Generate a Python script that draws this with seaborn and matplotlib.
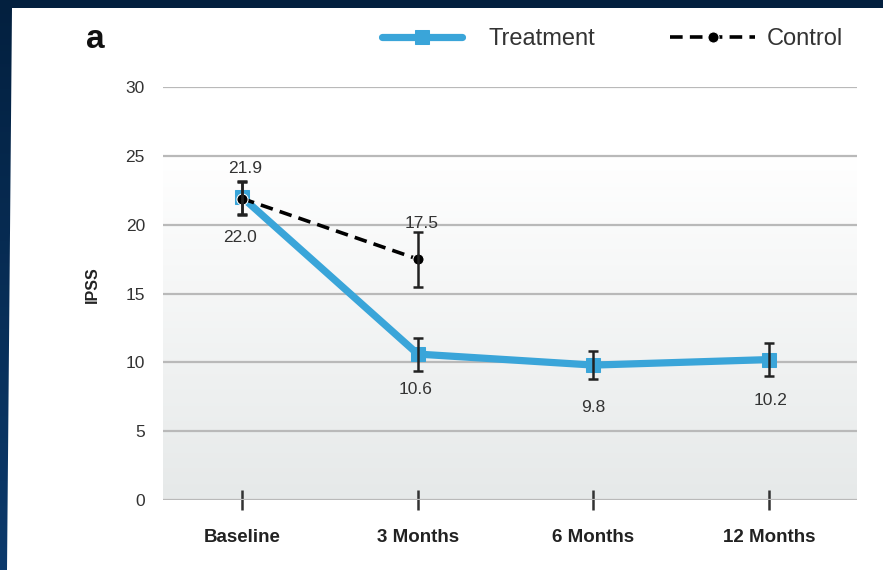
import numpy as np
import pandas as pd
import matplotlib
matplotlib.use("Agg")
import matplotlib.pyplot as plt
from matplotlib.patches import Polygon
from matplotlib.colors import LinearSegmentedColormap
import seaborn as sns

# Data
timepoints = ["Baseline", "3 Months", "6 Months", "12 Months"]
treatment_ipss = [22.0, 10.6, 9.8, 10.2]
treatment_err = [1.2, 1.2, 1.0, 1.2]
control_ipss = [21.9, 17.5]
control_err = [1.2, 2.0]
y_ticks = [0, 5, 10, 15, 20, 25, 30]

BLUE = "#3aa5d9"
W, H = 883, 570

sns.set_theme(style="white")
plt.rcParams["font.family"] = ["Liberation Sans", "DejaVu Sans"]

fig = plt.figure(figsize=(W / 100, H / 100), dpi=100)

# navy slide background with a slight vertical gradient
bg = fig.add_axes([0, 0, 1, 1], zorder=-20)
bg.imshow(np.linspace(0, 1, 256).reshape(-1, 1), aspect="auto", extent=[0, 1, 0, 1],
          cmap=LinearSegmentedColormap.from_list("navy", ["#0c3a6c", "#03203f"]),
          origin="lower")
bg.add_patch(Polygon([(12 / W, 1 - 8 / H), (1, 1 - 8 / H), (1, 0), (7 / W, 0)],
                     closed=True, facecolor="white", edgecolor="none"))
bg.set_xlim(0, 1)
bg.set_ylim(0, 1)
bg.axis("off")


def px(x0, y0, x1, y1):
    """Axes rectangle from pixel corners (top-left origin)."""
    return [x0 / W, 1 - y1 / H, (x1 - x0) / W, (y1 - y0) / H]


ax = fig.add_axes(px(163, 87, 857, 500))
ax.set_facecolor("none")

# soft gray gradient behind the lower part of the plot
ax.imshow(np.linspace(1, 0, 256).reshape(-1, 1), extent=[-0.45, 3.5, 0, 25], aspect="auto",
          origin="lower", cmap=LinearSegmentedColormap.from_list("g", ["#ffffff", "#e6e9e9"]),
          vmin=0, vmax=1, zorder=0)

for v in y_ticks:
    ax.axhline(v, color="#b9b9b9", lw=1.6, zorder=1)

tdf = pd.DataFrame({"pos": range(len(timepoints)), "ipss": treatment_ipss})
cdf = pd.DataFrame({"pos": range(len(control_ipss)), "ipss": control_ipss})

sns.lineplot(data=tdf, x="pos", y="ipss", color=BLUE, lw=5.2, marker="s", markersize=10,
             markeredgecolor=BLUE, ax=ax, label="Treatment", zorder=3)
sns.lineplot(data=cdf, x="pos", y="ipss", color="black", lw=2.6, marker="o", markersize=8,
             ax=ax, label="Control", zorder=4)
ax.lines[-1].set_linestyle((0, (3.5, 2.0)))

ax.errorbar(tdf["pos"], treatment_ipss, yerr=treatment_err, fmt="none", ecolor="#222222",
            elinewidth=1.8, capsize=3.6, capthick=1.8, zorder=5)
ax.errorbar(cdf["pos"], control_ipss, yerr=control_err, fmt="none", ecolor="#222222",
            elinewidth=1.8, capsize=3.6, capthick=1.8, zorder=5)

# value labels
lab_kw = dict(ha="center", va="center", fontsize=12.5, color="#333333", zorder=6)
ax.text(0.02, control_ipss[0] + 2.2, f"{control_ipss[0]:.1f}", **lab_kw)
ax.text(-0.01, treatment_ipss[0] - 2.9, f"{treatment_ipss[0]:.1f}", **lab_kw)
ax.text(1.02, control_ipss[1] + 2.55, f"{control_ipss[1]:.1f}", **lab_kw)
ax.text(0.99, treatment_ipss[1] - 2.55, f"{treatment_ipss[1]:.1f}", **lab_kw)
ax.text(2.0, treatment_ipss[2] - 3.05, f"{treatment_ipss[2]:.1f}", **lab_kw)
ax.text(3.01, treatment_ipss[3] - 2.95, f"{treatment_ipss[3]:.1f}", **lab_kw)

ax.set_xlim(-0.45, 3.5)
ax.set_ylim(0, 30)
ax.set_yticks(y_ticks)
ax.set_yticklabels([str(v) for v in y_ticks], fontsize=12.5, color="#333333")
ax.set_xticks(range(len(timepoints)))
ax.set_xticklabels(timepoints, fontsize=13.5, fontweight="bold", color="#222222")
ax.tick_params(axis="x", direction="inout", length=14, width=1.8, color="#333333", pad=14,
               bottom=True)
ax.tick_params(axis="y", length=0, pad=13)
for s in ax.spines.values():
    s.set_visible(False)
ax.set_xlabel("")
ax.set_ylabel("IPSS", fontsize=11.5, fontweight="bold", color="#222222", va="center")
ax.yaxis.set_label_coords((92.5 - 163) / 694, (500 - 284.5) / 413)

# legend: one entry per block across the top of the panel
handles, labels = ax.get_legend_handles_labels()
if ax.legend_:
    ax.legend_.remove()
leg_y = 1 - 39 / H
fig.legend([handles[0]], [labels[0]], loc="center left", bbox_to_anchor=(382 / W, leg_y),
           frameon=False, fontsize=17, handlelength=3.4, handletextpad=1.1,
           borderpad=0, borderaxespad=0, labelcolor="#333333")
fig.legend([handles[1]], [labels[1]], loc="center left", bbox_to_anchor=(670 / W, leg_y),
           frameon=False, fontsize=17, handlelength=3.6, handletextpad=0.5,
           borderpad=0, borderaxespad=0, labelcolor="#333333")

fig.text(95 / W, 1 - 40 / H, "a", fontsize=24, fontweight="bold", va="center", ha="center",
         color="#111111")

fig.savefig("out.png", dpi=100)
